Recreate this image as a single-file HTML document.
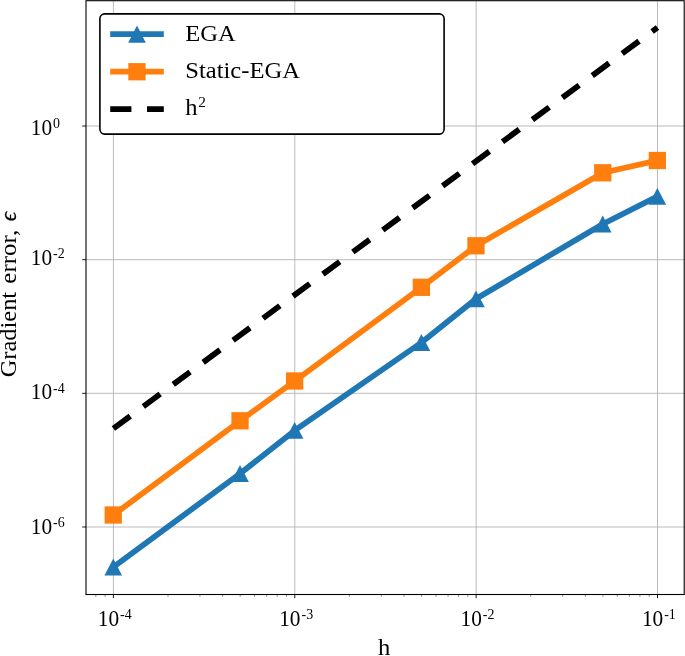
<!DOCTYPE html>
<html lang="en"><head><meta charset="utf-8"><title>Gradient error vs h</title>
<style>html,body{margin:0;padding:0;background:#fff}body{width:685px;height:656px;overflow:hidden}</style></head>
<body>
<svg width="685" height="656" viewBox="0 0 685 656" style="display:block;font-family:'Liberation Serif','DejaVu Serif',serif">
<rect width="685" height="656" fill="#fff"/>
<defs><clipPath id="ax"><rect x="86.0" y="0.7" width="598.2" height="593.8"/></clipPath></defs>
<g stroke="#b0b0b0" stroke-width="0.85" fill="none">
<line x1="113.40" y1="0.7" x2="113.40" y2="594.5"/>
<line x1="294.77" y1="0.7" x2="294.77" y2="594.5"/>
<line x1="476.14" y1="0.7" x2="476.14" y2="594.5"/>
<line x1="657.51" y1="0.7" x2="657.51" y2="594.5"/>
<line x1="86.0" y1="126.00" x2="684.2" y2="126.00"/>
<line x1="86.0" y1="259.66" x2="684.2" y2="259.66"/>
<line x1="86.0" y1="393.32" x2="684.2" y2="393.32"/>
<line x1="86.0" y1="526.98" x2="684.2" y2="526.98"/>
</g>
<g stroke="#000" stroke-width="0.9" fill="none">
<line x1="113.40" y1="594.5" x2="113.40" y2="598.20"/>
<line x1="294.77" y1="594.5" x2="294.77" y2="598.20"/>
<line x1="476.14" y1="594.5" x2="476.14" y2="598.20"/>
<line x1="657.51" y1="594.5" x2="657.51" y2="598.20"/>
<line x1="86.0" y1="126.00" x2="82.20" y2="126.00"/>
<line x1="86.0" y1="259.66" x2="82.20" y2="259.66"/>
<line x1="86.0" y1="393.32" x2="82.20" y2="393.32"/>
<line x1="86.0" y1="526.98" x2="82.20" y2="526.98"/>
</g>
<g stroke="#000" stroke-width="0.8" fill="none" opacity="0.65">
<line x1="95.82" y1="594.5" x2="95.82" y2="596.60"/>
<line x1="105.10" y1="594.5" x2="105.10" y2="596.60"/>
<line x1="168.00" y1="594.5" x2="168.00" y2="596.60"/>
<line x1="199.94" y1="594.5" x2="199.94" y2="596.60"/>
<line x1="222.60" y1="594.5" x2="222.60" y2="596.60"/>
<line x1="240.17" y1="594.5" x2="240.17" y2="596.60"/>
<line x1="254.53" y1="594.5" x2="254.53" y2="596.60"/>
<line x1="266.68" y1="594.5" x2="266.68" y2="596.60"/>
<line x1="277.19" y1="594.5" x2="277.19" y2="596.60"/>
<line x1="286.47" y1="594.5" x2="286.47" y2="596.60"/>
<line x1="349.37" y1="594.5" x2="349.37" y2="596.60"/>
<line x1="381.31" y1="594.5" x2="381.31" y2="596.60"/>
<line x1="403.97" y1="594.5" x2="403.97" y2="596.60"/>
<line x1="421.54" y1="594.5" x2="421.54" y2="596.60"/>
<line x1="435.90" y1="594.5" x2="435.90" y2="596.60"/>
<line x1="448.05" y1="594.5" x2="448.05" y2="596.60"/>
<line x1="458.56" y1="594.5" x2="458.56" y2="596.60"/>
<line x1="467.84" y1="594.5" x2="467.84" y2="596.60"/>
<line x1="530.74" y1="594.5" x2="530.74" y2="596.60"/>
<line x1="562.68" y1="594.5" x2="562.68" y2="596.60"/>
<line x1="585.34" y1="594.5" x2="585.34" y2="596.60"/>
<line x1="602.91" y1="594.5" x2="602.91" y2="596.60"/>
<line x1="617.27" y1="594.5" x2="617.27" y2="596.60"/>
<line x1="629.42" y1="594.5" x2="629.42" y2="596.60"/>
<line x1="639.93" y1="594.5" x2="639.93" y2="596.60"/>
<line x1="649.21" y1="594.5" x2="649.21" y2="596.60"/>
</g>
<g clip-path="url(#ax)">
<polyline points="113.4,567.0 240.2,473.5 294.8,430.4 421.5,342.5 476.1,298.8 602.9,224.0 657.5,196.4" fill="none" stroke="#1f77b4" stroke-width="5.75" stroke-linejoin="round" stroke-linecap="square"/>
<path d="M113.25,558.5 L104.45,575.5 L122.05,575.5 Z" fill="#1f77b4" />
<path d="M240.02,465.1 L231.22,481.9 L248.82,481.9 Z" fill="#1f77b4" />
<path d="M294.62,421.9 L285.82,438.8 L303.42,438.8 Z" fill="#1f77b4" />
<path d="M421.39,334.1 L412.59,350.9 L430.19,350.9 Z" fill="#1f77b4" />
<path d="M475.99,290.4 L467.19,307.2 L484.79,307.2 Z" fill="#1f77b4" />
<path d="M602.76,215.6 L593.96,232.4 L611.56,232.4 Z" fill="#1f77b4" />
<path d="M657.36,188.0 L648.56,204.8 L666.16,204.8 Z" fill="#1f77b4" />
<polyline points="113.4,515.0 240.2,420.8 294.8,381.0 421.5,287.3 476.1,245.8 602.9,172.8 657.5,160.5" fill="none" stroke="#ff7f0e" stroke-width="5.75" stroke-linejoin="round" stroke-linecap="square"/>
<rect x="104.60" y="506.35" width="17.3" height="17.3" fill="#ff7f0e"/>
<rect x="231.37" y="412.15" width="17.3" height="17.3" fill="#ff7f0e"/>
<rect x="285.97" y="372.35" width="17.3" height="17.3" fill="#ff7f0e"/>
<rect x="412.74" y="278.65" width="17.3" height="17.3" fill="#ff7f0e"/>
<rect x="467.34" y="237.15" width="17.3" height="17.3" fill="#ff7f0e"/>
<rect x="594.11" y="164.15" width="17.3" height="17.3" fill="#ff7f0e"/>
<rect x="648.71" y="151.85" width="17.3" height="17.3" fill="#ff7f0e"/>
<line x1="113.4" y1="428.5" x2="657.5" y2="27.5" stroke="#000" stroke-width="5.75" stroke-dasharray="20.9 16.28"/>
</g>
<rect x="86.0" y="0.7" width="598.2" height="593.8" fill="none" stroke="#000" stroke-width="1.1"/>
<rect x="99.9" y="13.9" width="344.20000000000005" height="120.19999999999999" rx="4.8" ry="4.8" fill="#fff" stroke="#000" stroke-width="1.6"/>
<line x1="110.2" y1="34.2" x2="163.8" y2="34.2" stroke="#1f77b4" stroke-width="5.75"/>
<path d="M137.0,25.6 L128.2,42.8 L145.8,42.8 Z" fill="#1f77b4"/>
<line x1="110.2" y1="71.7" x2="163.8" y2="71.7" stroke="#ff7f0e" stroke-width="5.75"/>
<rect x="128.3" y="63.1" width="17.3" height="17.3" fill="#ff7f0e"/>
<line x1="110.2" y1="109" x2="163.8" y2="109" stroke="#000" stroke-width="5.75" stroke-dasharray="21.2 15.6"/>
<g font-size="23.2" fill="#000">
<text transform="translate(185.3,41.2) scale(1.06,1)">EGA</text>
<text transform="translate(185.3,78.4) scale(1.06,1)">Static-EGA</text>
<text transform="translate(185.3,114.7) scale(1.06,1)">h<tspan font-size="14.5" dy="-7.6" dx="0.6">2</tspan></text>
<text transform="translate(97.8,625.8) scale(0.893,1)" font-size="23.9">10</text>
<text transform="translate(120.1,619.2) scale(0.93,1)" font-size="15">-4</text>
<text transform="translate(279.2,625.8) scale(0.893,1)" font-size="23.9">10</text>
<text transform="translate(301.5,619.2) scale(0.93,1)" font-size="15">-3</text>
<text transform="translate(460.5,625.8) scale(0.893,1)" font-size="23.9">10</text>
<text transform="translate(482.8,619.2) scale(0.93,1)" font-size="15">-2</text>
<text transform="translate(641.9,625.8) scale(0.893,1)" font-size="23.9">10</text>
<text transform="translate(664.2,619.2) scale(0.93,1)" font-size="15">-1</text>
<text transform="translate(30.8,135.0) scale(0.893,1)" font-size="23.9">10</text>
<text transform="translate(53.1,128.4) scale(0.93,1)" font-size="15">0</text>
<text transform="translate(30.8,265.0) scale(0.893,1)" font-size="23.9">10</text>
<text transform="translate(53.1,258.4) scale(0.93,1)" font-size="15">-2</text>
<text transform="translate(30.8,399.1) scale(0.893,1)" font-size="23.9">10</text>
<text transform="translate(53.1,392.5) scale(0.93,1)" font-size="15">-4</text>
<text transform="translate(30.8,533.9) scale(0.893,1)" font-size="23.9">10</text>
<text transform="translate(53.1,527.3) scale(0.93,1)" font-size="15">-6</text>
<text transform="translate(384.1,655.2) scale(1.1,1)" font-size="22.4" text-anchor="middle">h</text>
<g transform="translate(15.8,0) rotate(-90)">
<text transform="translate(-377.3,0) scale(1.053,1)">Gradient</text>
<text transform="translate(-283.7,0) scale(1.08,1)">error,</text>
<text transform="translate(-221.2,0) scale(1.0,1)" font-style="italic" stroke="#000" stroke-width="0.35">ϵ</text>
</g>
</g>
</svg>
</body></html>
